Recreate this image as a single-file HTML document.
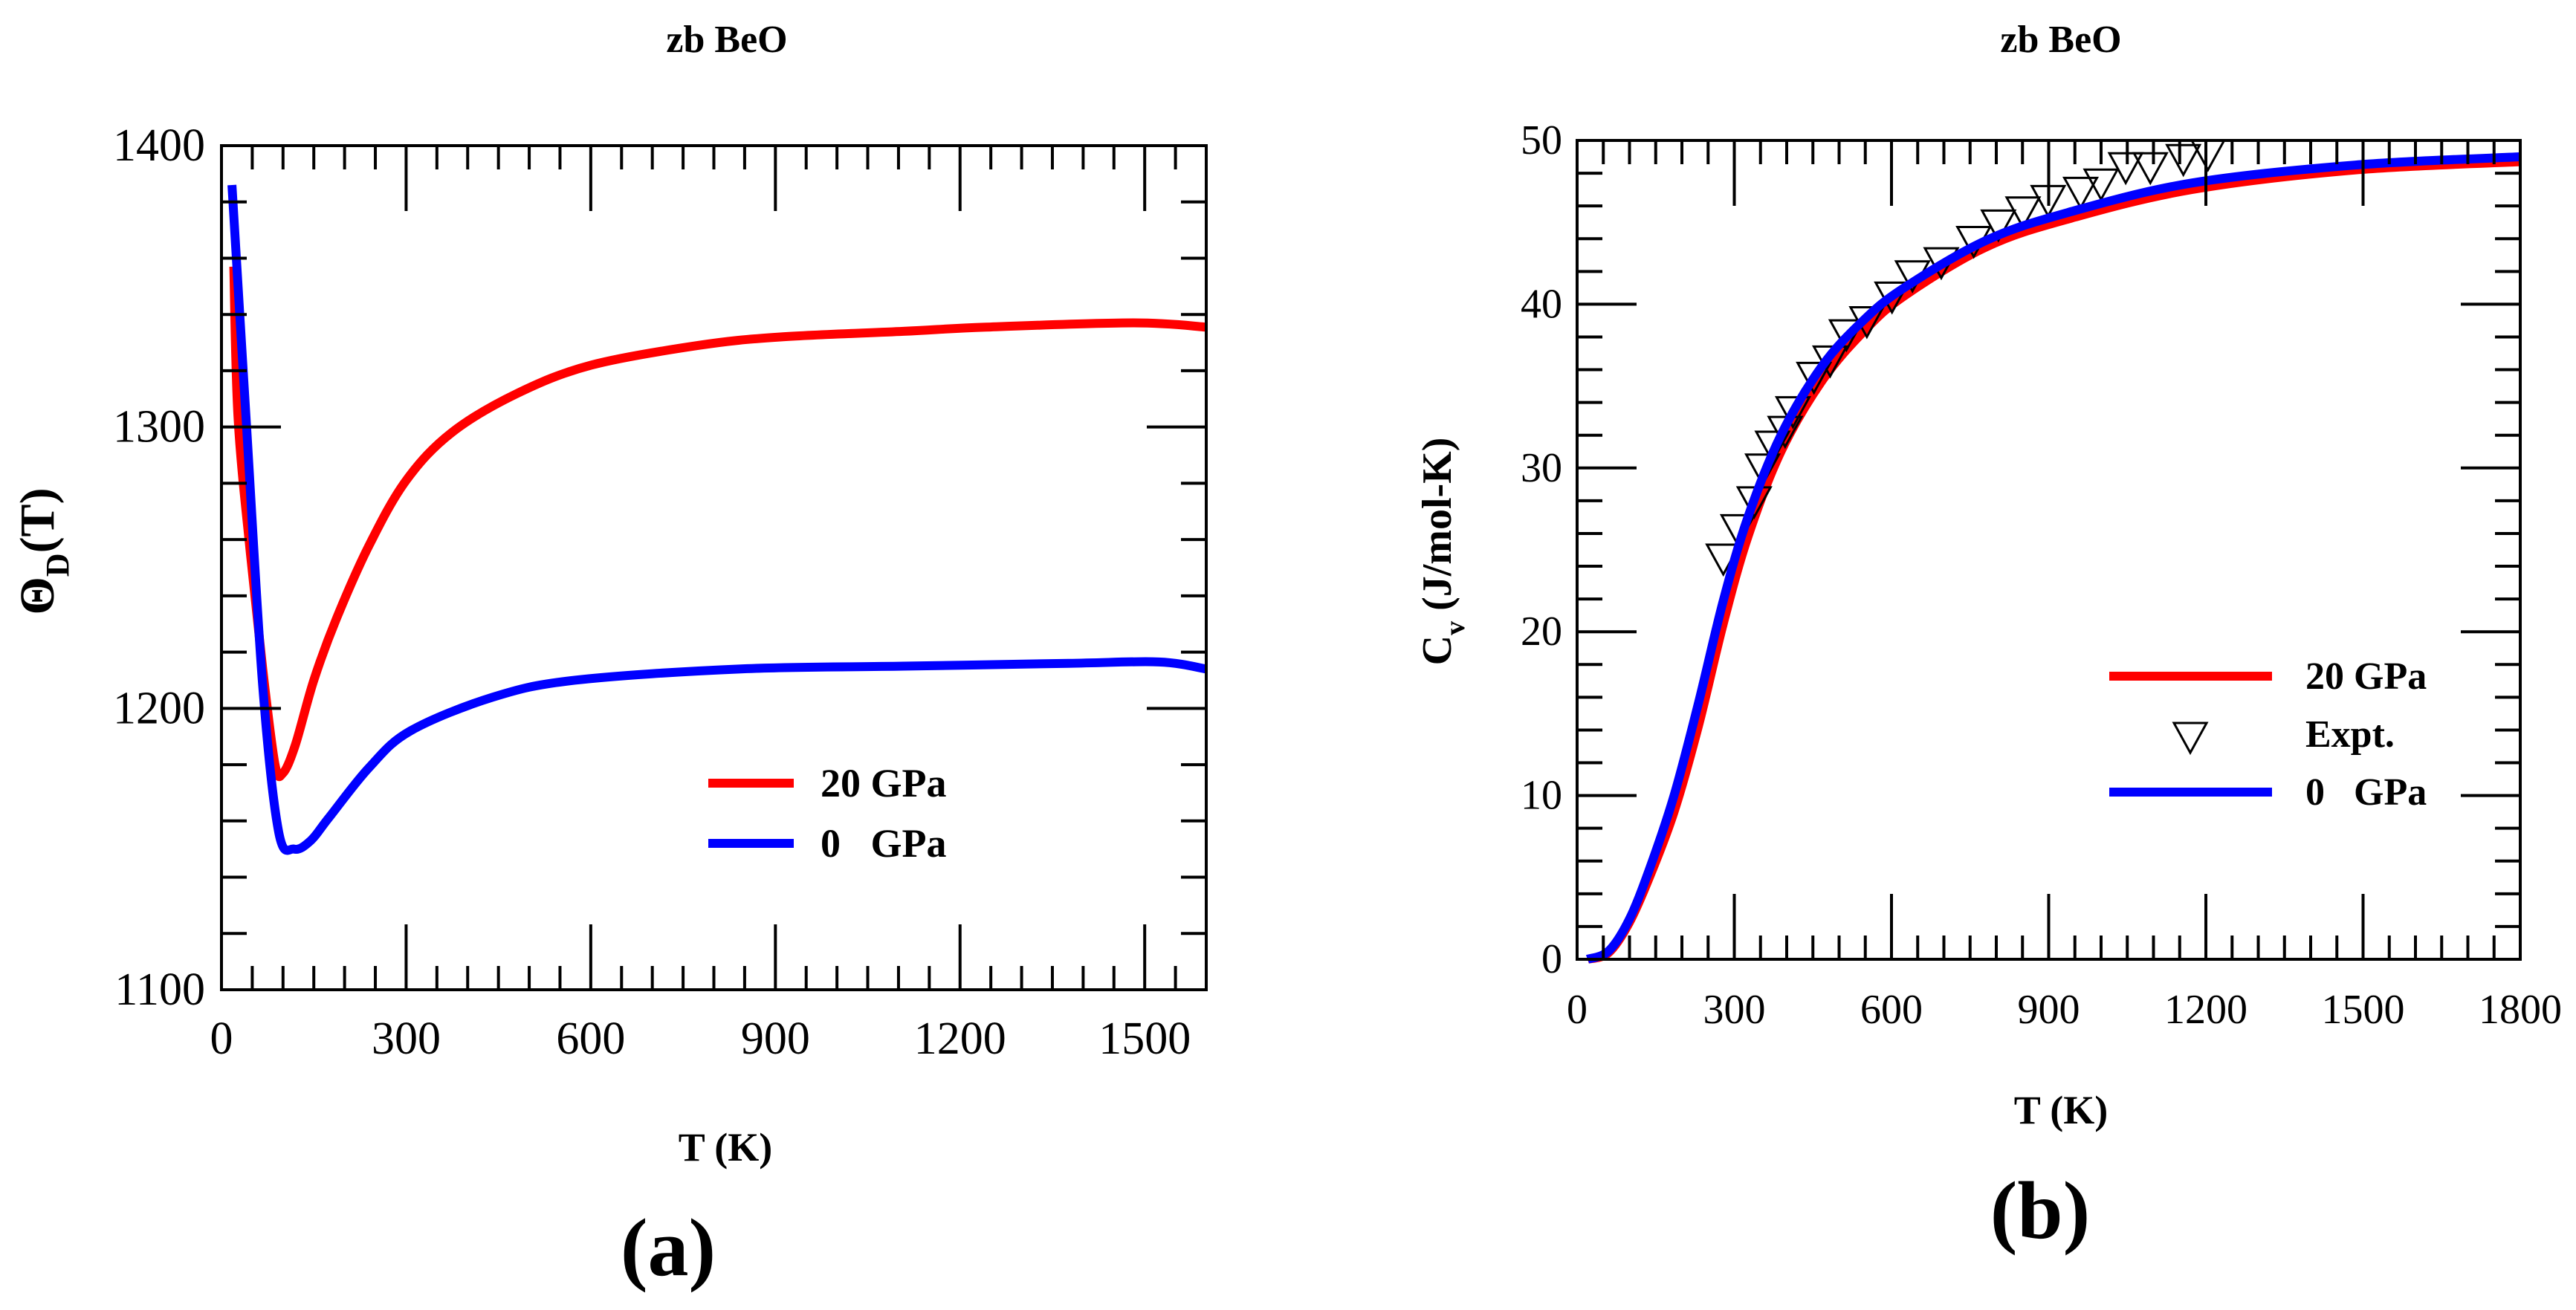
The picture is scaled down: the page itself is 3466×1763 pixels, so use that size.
<!DOCTYPE html>
<html><head><meta charset="utf-8"><style>
html,body{margin:0;padding:0;background:#fff;}
svg{display:block;}
text{font-family:"Liberation Serif",serif;fill:#000;}
</style></head><body>
<svg id="svg" width="3466" height="1763" viewBox="0 0 3466 1763" xmlns="http://www.w3.org/2000/svg">
<g id="pa"></g>
<g id="pb"></g>
</svg>
<script>
// Panel (a) data
const aRedT = [20, 27, 47, 67, 87, 100, 120, 150, 187, 240, 300, 374, 481, 601, 775, 908, 1108, 1242, 1482, 1600];
const aRedV = [1357, 1303, 1255, 1214, 1180, 1177, 1187, 1210, 1232, 1258, 1281, 1298, 1312, 1322, 1329, 1332, 1334, 1335.5, 1337, 1335.5];
const aBlueT = [17, 40, 67, 93, 118, 145, 174, 240, 307, 441, 574, 841, 1108, 1376, 1523, 1600];
const aBlueV = [1386, 1303, 1208, 1156, 1150, 1153, 1161, 1179, 1192, 1204, 1210, 1214, 1215, 1216, 1216.5, 1214];
const aXTicks = [0, 300, 600, 900, 1200, 1500];
const aYTicks = [1100, 1200, 1300, 1400];
// Panel (b) data
const bT = [20, 60, 99, 138, 185, 232, 279, 326, 389, 467, 546, 624, 781, 937, 1173, 1486, 1800];
const bBlueV = [0, 0.5, 2.4, 5.5, 10, 15.7, 21.9, 27, 32, 36.2, 39, 41, 43.9, 45.6, 47.4, 48.5, 49];
const bRedV = [0, 0.4, 2.2, 5, 9, 14.3, 20.5, 25.8, 31, 35.3, 38.3, 40.5, 43.5, 45.2, 47, 48.2, 48.7];
const exT = [279, 307, 338, 354, 373, 397, 412, 452, 483, 514, 553, 601, 640, 695, 757, 804, 851, 899, 961, 1000, 1047, 1094, 1157, 1204];
const exV = [24.5, 26.3, 28.0, 30.0, 31.4, 32.3, 33.5, 35.6, 36.6, 38.2, 39.0, 40.5, 41.8, 42.6, 43.9, 44.9, 45.7, 46.4, 46.9, 47.4, 48.4, 48.4, 48.9, 49.2];
const bXTicks = [0, 300, 600, 900, 1200, 1500, 1800];
const bYTicks = [0, 10, 20, 30, 40, 50];

const NS = "http://www.w3.org/2000/svg";
function mk(parent, tag, attrs, txt) {
  const e = document.createElementNS(NS, tag);
  for (const k in attrs) e.setAttribute(k, attrs[k]);
  if (txt !== undefined) e.textContent = txt;
  parent.appendChild(e);
  return e;
}
function scale(d0, d1, r0, r1) { return v => r0 + (v - d0) / (d1 - d0) * (r1 - r0); }
function has(arr, v) { return arr.some(a => Math.abs(a - v) < 1e-6); }

function frame(g, X, Y, L, R, T, B, xmaj, xminStep, xmax, ymaj, yminStep, ymin, ymax) {
  const fr = mk(g, "rect", {x: L, y: T, width: R - L, height: B - T, fill: "none", stroke: "#000", "stroke-width": 4});
  
  
  let d = "";
  for (let v = 0; v <= xmax + 1e-6; v += xminStep) {
    const x = X(v); const len = has(xmaj, v) ? 88 : 32;
    d += `M${x},${B}V${B - len}M${x},${T}V${T + len}`;
  }
  for (let v = ymin; v <= ymax + 1e-6; v += yminStep) {
    const y = Y(v); const len = has(ymaj, v) ? 80 : 34;
    d += `M${L},${y}H${L + len}M${R},${y}H${R - len}`;
  }
  const t = mk(g, "path", {d: d, stroke: "#000", "stroke-width": 4, fill: "none"});
  
  
}
function smoothPath(pts) {
  let d = `M${pts[0][0]},${pts[0][1]}`;
  for (let i = 0; i < pts.length - 1; i++) {
    const p0 = pts[i - 1] || pts[i], p1 = pts[i], p2 = pts[i + 1], p3 = pts[i + 2] || p2;
    const c1x = p1[0] + (p2[0] - p0[0]) / 6, c1y = p1[1] + (p2[1] - p0[1]) / 6;
    const c2x = p2[0] - (p3[0] - p1[0]) / 6, c2y = p2[1] - (p3[1] - p1[1]) / 6;
    d += `C${c1x},${c1y} ${c2x},${c2y} ${p2[0]},${p2[1]}`;
  }
  return d;
}
function line(g, xs, ys, X, Y, color, name) {
  const pts = xs.map((t, i) => [X(t), Y(ys[i])]);
  const p = mk(g, "path", {d: smoothPath(pts), fill: "none", stroke: color, "stroke-width": 12, "stroke-linejoin": "round"});
  
  
}

// Panel A
(function () {
  const g = document.getElementById("pa");
  const L = 298, R = 1623, T = 196, B = 1332;
  const X = scale(0, 1600, L, R), Y = scale(1100, 1400, B, T);
  line(g, aRedT, aRedV, X, Y, "#ff0000", "line-20gpa");
  line(g, aBlueT, aBlueV, X, Y, "#0000ff", "line-0gpa");
  frame(g, X, Y, L, R, T, B, aXTicks, 50, 1600, aYTicks, 20, 1100, 1400);
  aXTicks.forEach(v => {
    const t = mk(g, "text", {x: X(v), y: 1418, "font-size": 62, "text-anchor": "middle"}, String(v));
    
    
  });
  aYTicks.forEach(v => {
    const t = mk(g, "text", {x: 276, y: Y(v) + 20, "font-size": 62, "text-anchor": "end"}, String(v));
    
    
  });
})();

// Panel B
(function () {
  const g = document.getElementById("pb");
  const L = 2122, R = 3391, T = 189, B = 1291;
  const X = scale(0, 1800, L, R), Y = scale(0, 50, B, T);
  line(g, bT, bRedV, X, Y, "#ff0000", "line-20gpa");
  exT.forEach((t, i) => {
    const x = X(t), y = Y(exV[i]);
    const p = mk(g, "polygon", {points: `${x - 22},${y - 18} ${x + 22},${y - 18} ${x},${y + 22}`, fill: "none", stroke: "#000", "stroke-width": 3});
    
    
  });
  line(g, bT, bBlueV, X, Y, "#0000ff", "line-0gpa");
  frame(g, X, Y, L, R, T, B, bXTicks, 50, 1800, bYTicks, 2, 0, 50);
  bXTicks.forEach(v => {
    const t = mk(g, "text", {x: X(v), y: 1377, "font-size": 56, "text-anchor": "middle"}, String(v));
    
    
  });
  bYTicks.forEach(v => {
    const t = mk(g, "text", {x: 2102, y: Y(v) + 18, "font-size": 56, "text-anchor": "end"}, String(v));
    
    
  });
})();
</script>
<svg style="position:absolute;left:0;top:0" width="3466" height="1763" viewBox="0 0 3466 1763" xmlns="http://www.w3.org/2000/svg">
<g font-family="Liberation Serif, serif" font-weight="bold">
<text x="978" y="70" font-size="52" text-anchor="middle">zb BeO</text>
<text x="2773" y="70" font-size="52" text-anchor="middle">zb BeO</text>
<text x="976" y="1562" font-size="54" text-anchor="middle">T (K)</text>
<text x="2773" y="1512" font-size="54" text-anchor="middle">T (K)</text>
<text x="899" y="1716" font-size="110" text-anchor="middle">(a)</text>
<text x="2745" y="1666" font-size="110" text-anchor="middle">(b)</text>
<text transform="translate(72,742) rotate(-90)" font-size="66" text-anchor="middle">Θ<tspan font-size="44" dy="20">D</tspan><tspan dy="-20">(T)</tspan></text>
<text transform="translate(1952,742) rotate(-90)" font-size="56" text-anchor="middle">C<tspan font-size="38" dy="18">v</tspan><tspan dy="-18"> (J/mol-K)</tspan></text>
<text x="1104" y="1072" font-size="54">20 GPa</text>
<text x="1104" y="1153" font-size="54" xml:space="preserve">0   GPa</text>
<text x="3102" y="927" font-size="52">20 GPa</text>
<text x="3102" y="1005" font-size="52">Expt.</text>
<text x="3102" y="1083" font-size="52" xml:space="preserve">0   GPa</text>
</g>
<line x1="953" y1="1054" x2="1068" y2="1054" stroke="#ff0000" stroke-width="12"/>
<line x1="953" y1="1135" x2="1068" y2="1135" stroke="#0000ff" stroke-width="12"/>
<line x1="2838" y1="910" x2="3057" y2="910" stroke="#ff0000" stroke-width="12"/>
<polygon points="2925,973 2969,973 2947,1013" fill="none" stroke="#000" stroke-width="3"/>
<line x1="2838" y1="1066" x2="3057" y2="1066" stroke="#0000ff" stroke-width="12"/>
</svg>
</body></html>
